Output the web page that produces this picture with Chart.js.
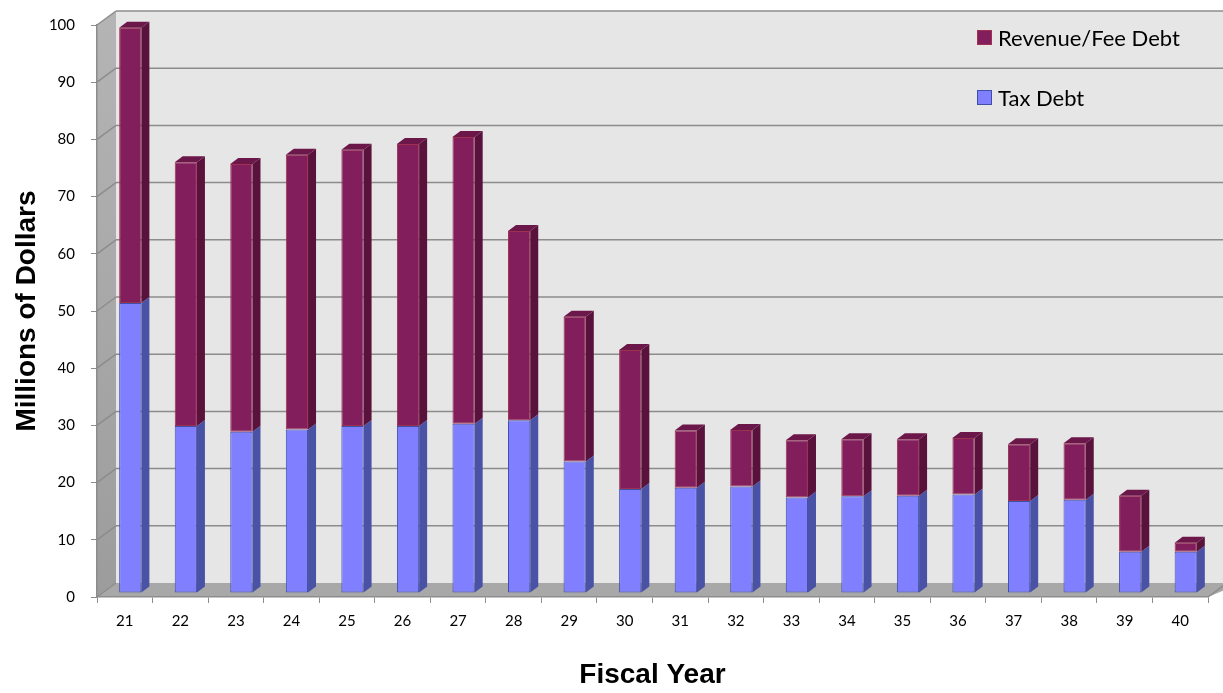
<!DOCTYPE html>
<html>
<head>
<meta charset="utf-8">
<script src="https://cdn.jsdelivr.net/npm/chart.js@4.4.0/dist/chart.umd.min.js"></script>
<style>
  html, body { margin: 0; padding: 0; background: #fff; }
  #wrap { position: relative; width: 1223px; height: 693px; }
  #legend { position: absolute; left: 977px; top: 30px; font-family: Lato, sans-serif; font-size: 22px; color: #000; }
  .item { display: flex; align-items: center; height: 15px; margin-bottom: 45px; white-space: nowrap; }
  .box { width: 13px; height: 13px; margin-right: 6px; border: 1px solid; }
</style>
</head>
<body>
<div id="wrap">
  <canvas id="chart" width="1223" height="693"></canvas>
  <div id="legend"></div>
</div>
<script>
const years = ['21', '22', '23', '24', '25', '26', '27', '28', '29', '30',
               '31', '32', '33', '34', '35', '36', '37', '38', '39', '40'];
const taxDebt = [50.7, 29.2, 28.2, 28.6, 29.2, 29.2, 29.6, 30.2, 23.0, 18.2,
                 18.4, 18.6, 16.7, 16.9, 17.0, 17.2, 16.1, 16.3, 7.2, 7.2];
const revenueDebt = [48.1, 46.1, 46.8, 48.0, 48.3, 49.3, 50.1, 33.1, 25.3, 24.3,
                     10.0, 9.9, 10.0, 10.0, 9.9, 9.9, 9.9, 9.9, 9.8, 1.6];
const yTicks = [0, 10, 20, 30, 40, 50, 60, 70, 80, 90, 100];

// fake 3d: bar depth, wall depth, and shift of the bars inside the box
const depth = { dx: 8, dy: -6 };
const wall = { dx: 19, dy: -14 };
const shift = { x: 5.5, y: -4 };

function poly(ctx, pts) {
  ctx.beginPath();
  ctx.moveTo(pts[0][0], pts[0][1]);
  for (let i = 1; i < pts.length; i++) ctx.lineTo(pts[i][0], pts[i][1]);
  ctx.closePath();
  ctx.fill();
}

const threeD = {
  id: 'threeD',
  beforeDraw(chart) {
    const ctx = chart.ctx;
    const a = chart.chartArea;
    const y = chart.scales.y;
    const W = chart.width;
    ctx.save();
    // back wall
    ctx.fillStyle = '#e6e6e6';
    ctx.fillRect(a.left + wall.dx, a.top + wall.dy, W - a.left - wall.dx, a.bottom - a.top);
    // left wall
    const g = ctx.createLinearGradient(0, a.top, 0, a.bottom);
    g.addColorStop(0, '#b4b4b4');
    g.addColorStop(1, '#9c9c9c');
    ctx.fillStyle = g;
    poly(ctx, [[a.left, a.top], [a.left + wall.dx, a.top + wall.dy],
               [a.left + wall.dx, a.bottom + wall.dy], [a.left, a.bottom]]);
    // floor
    ctx.fillStyle = '#a8a8a8';
    poly(ctx, [[a.left, a.bottom], [a.left + wall.dx, a.bottom + wall.dy],
               [W + wall.dx, a.bottom + wall.dy], [a.right, a.bottom]]);
    // grid lines on the walls
    ctx.strokeStyle = '#8c8c8c';
    ctx.lineWidth = 1.5;
    yTicks.forEach(v => {
      const py = y.getPixelForValue(v);
      if (v > 0) {
        ctx.beginPath();
        ctx.moveTo(a.left + wall.dx, py + wall.dy);
        ctx.lineTo(W, py + wall.dy);
        ctx.stroke();
      }
      ctx.beginPath();
      ctx.moveTo(a.left, py);
      ctx.lineTo(a.left + wall.dx, py + wall.dy);
      ctx.stroke();
    });
    // right end of the floor
    ctx.beginPath();
    ctx.moveTo(a.right, a.bottom);
    ctx.lineTo(a.right + wall.dx, a.bottom + wall.dy);
    ctx.stroke();
    ctx.restore();
  },
  beforeDatasetsDraw(chart) {
    chart.ctx.save();
    chart.ctx.translate(shift.x, shift.y);
  },
  afterDatasetsDraw(chart) {
    const ctx = chart.ctx;
    const last = chart.data.datasets.length - 1;
    chart.data.datasets.forEach((ds, i) => {
      chart.getDatasetMeta(i).data.forEach(bar => {
        const { x, y, base, width } = bar.getProps(['x', 'y', 'base', 'width'], true);
        const l = x - width / 2, r = x + width / 2;
        ctx.fillStyle = ds.sideColor;
        poly(ctx, [[r, y], [r + depth.dx, y + depth.dy], [r + depth.dx, base + depth.dy], [r, base]]);
        if (i === last) {
          ctx.fillStyle = ds.topColor;
          poly(ctx, [[l, y], [l + depth.dx, y + depth.dy], [r + depth.dx, y + depth.dy], [r, y]]);
        }
      });
    });
    ctx.restore();
  }
};

const chart = new Chart(document.getElementById('chart').getContext('2d'), {
  type: 'bar',
  data: {
    labels: years,
    datasets: [
      {
        label: 'Tax Debt',
        data: taxDebt,
        backgroundColor: '#7f7fff',
        borderColor: '#3f4fa8',
        sideColor: '#4a52a6',
        topColor: '#6a6ae0',
        borderWidth: 1,
        borderSkipped: false
      },
      {
        label: 'Revenue/Fee Debt',
        data: revenueDebt,
        backgroundColor: '#821e5c',
        borderColor: '#9e3050',
        sideColor: '#58123c',
        topColor: '#6c174a',
        borderWidth: 1,
        borderSkipped: false
      }
    ]
  },
  options: {
    responsive: false,
    animation: false,
    layout: { padding: { top: 21, right: 15, left: 0, bottom: 0 } },
    datasets: { bar: { barPercentage: 0.4, categoryPercentage: 1.0 } },
    plugins: { legend: { display: false }, tooltip: { enabled: false } },
    scales: {
      x: {
        stacked: true,
        afterFit: s => { s.height = 96; },
        grid: { drawOnChartArea: false, tickLength: 6, color: '#8c8c8c' },
        border: { color: '#8c8c8c', width: 1.5 },
        ticks: { color: '#000', font: { family: 'Lato', size: 15 }, padding: 9 },
        title: {
          display: true,
          text: 'Fiscal Year',
          color: '#000',
          font: { family: 'Liberation Sans', size: 28, weight: 'bold' },
          padding: { top: 0, bottom: 1 }
        }
      },
      y: {
        stacked: true,
        min: 0,
        max: 100,
        afterFit: s => { s.width = 97; },
        afterBuildTicks: s => { s.ticks = yTicks.map(v => ({ value: v })); },
        grid: { drawOnChartArea: false, tickLength: 6, color: '#8c8c8c' },
        border: { color: '#8c8c8c', width: 1.5 },
        ticks: { color: '#000', font: { family: 'Lato', size: 15 }, padding: 16 },
        title: {
          display: true,
          text: 'Millions of Dollars',
          color: '#000',
          font: { family: 'Liberation Sans', size: 28, weight: 'bold' },
          padding: { top: 10, bottom: 0 }
        }
      }
    }
  },
  plugins: [threeD]
});

// legend, top series first
const legend = document.getElementById('legend');
chart.data.datasets.slice().reverse().forEach(ds => {
  const item = document.createElement('div');
  item.className = 'item';
  item.innerHTML = `<span class="box" style="background:${ds.backgroundColor};border-color:${ds.borderColor}"></span><span>${ds.label}</span>`;
  legend.appendChild(item);
});
</script>
</body>
</html>
